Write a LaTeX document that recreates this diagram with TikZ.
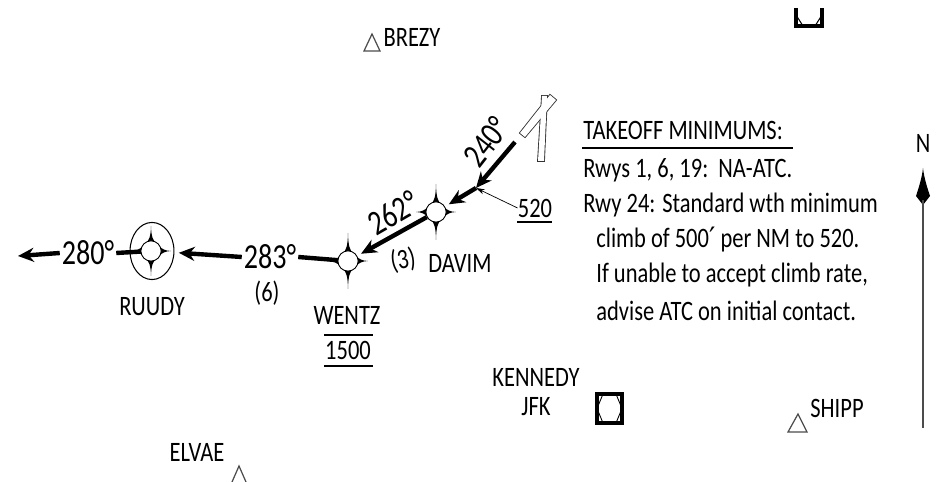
\documentclass[tikz,border=0pt]{standalone}
\usepackage{fontspec}
\setmainfont[FakeStretch=0.8]{Carlito}
\newfontfamily\symfont{DejaVu Sans}
\usetikzlibrary{arrows.meta,shapes.geometric}
\tikzset{
	txt/.style={inner sep=0pt,font=\fontsize{16}{16}\selectfont},
	big/.style={inner sep=1pt,font=\fontsize{20}{20}\selectfont},
	line/.style={anchor=west,inner sep=0pt,font=\fontsize{16}{16}\selectfont},
	leg/.style={line width=2.5pt,shorten >=2.5pt,-{Stealth[length=9pt,width=8pt]}},
	fix/.style={circle,draw,fill=white,line width=0.5pt,minimum size=11.5pt,inner sep=0pt},
	tri/.style={draw=black!70,line width=0.7pt},
	navaid/.style={draw,line width=1.8pt},
	strip/.style={draw=black!80,line width=1pt},
	fixstar/.pic={
		\foreach \a/\b in {0/#1,90/20,180/#1,270/20}{
			\fill[rotate=\a] (0,-\b) .. controls (0.3,-14) and (2,-11) .. (5,-8) -- (-5,-8) .. controls (-2,-11) and (-0.3,-14) .. (0,-\b);
		}
	},
	fixstar/.default=25
}
\begin{document}
\begin{tikzpicture}[x=0.02cm,y=-0.02cm]
	\useasboundingbox (0,0) rectangle (940,482);
	% fixes
	\pic at (151,251) {fixstar=25};
	\pic at (348,261) {fixstar=28};
	\pic at (436,212) {fixstar=28};
	\node[fix] (ruudy) at (151,251) {};
	\node[fix] (wentz) at (348,261) {};
	\node[fix] (davim) at (436,212) {};
	\node[draw,ellipse,line width=0.6pt,minimum width=25pt,minimum height=32.5pt,inner sep=0pt] (ring) at (152,251) {};
	% labels
	\node[big] (l280) at (88,253) {280°};
	\node[big] (l283) at (270,257) {283°};
	\node[big,rotate=30] (l262) at (393,213) {262°};
	\node[big,rotate=52] (l240) at (486,142) {240°};
	\node[txt] (l6) at (267,293) {(6)};
	\node[txt,rotate=10] (l3) at (403,260) {(3)};
	\node[txt] (lruudy) at (152,307) {RUUDY};
	\node[txt] (lwentz) at (347,315) {WENTZ};
	\node[txt] (l1500) at (348,350) {1500};
	\node[txt] (ldavim) at (460,263) {DAVIM};
	\node[txt] (l520) at (535,208) {520};
	\node[txt] (lbrezy) at (412,37) {BREZY};
	\node[txt] (lelvae) at (197,452) {ELVAE};
	\node[txt] (lshipp) at (837,408) {SHIPP};
	\node[txt] (lkennedy) at (536,377) {KENNEDY};
	\node[txt] (ljfk) at (536,407) {JFK};
	\node[txt] (lnorth) at (923,143) {N};
	% route
	\coordinate (w280) at (18,256);
	\coordinate (rwyend) at (515,142);
	\coordinate (mid) at (476,188);
	\draw[leg,shorten >=0pt] (l280.west) -- (w280);
	\draw[line width=2.5pt] (l280.east) -- (ruudy);
	\draw[leg] (l283.west) -- (ring);
	\draw[line width=2.5pt] (l283.east) -- (wentz);
	\draw[leg] (davim) -- (wentz);
	\draw[leg,shorten >=0pt] (rwyend) -- (mid);
	\draw[leg] (mid) -- (davim);
	\draw[thin,-{Stealth[length=5pt,width=3pt]}] (l520.west) -- (mid);
	% underlines
	\draw[thick] (324,335) -- (373,335);
	\draw[thick] (324,366) -- (373,366);
	\draw[thick] (517,222) -- (552,222);
	% runway
	\draw[strip] (538,161) -- (542,96) -- (547,96) -- (544,161) -- cycle;
	\draw[strip] (520,133) -- (550,95) -- (556,100) -- (525,137) -- cycle;
	\fill[white] (538,161) -- (542,96) -- (547,96) -- (544,161) -- cycle;
	\fill[white] (520,133) -- (550,95) -- (556,100) -- (525,137) -- cycle;
	% intersections
	\draw[tri] (364,51) -- (372,34) -- (380,51) -- cycle;
	\draw[tri] (788,432) -- (798,414) -- (807,432) -- cycle;
	\draw[tri] (232,482) -- (239,466) -- (246,482);
	% airports
	\draw[line width=0.5pt] (603,394) -- (616,394) -- (622,408.5) -- (616,423) -- (603,423) -- (597,408.5) -- cycle;
	\draw[navaid] (597,394) rectangle (622,423);
	\draw[navaid] (796,8) -- (796,26) -- (822,26) -- (822,8);
	\draw[line width=0.6pt] (796,15) -- (803,26);
	\draw[line width=0.6pt] (822,15) -- (815,26);
	% takeoff note
	\node[line] (title) at (583,130) {TAKEOFF MINIMUMS:};
	\draw[thick] (582,148) -- (793,148);
	\node[line] (rwys) at (583,170) {Rwys 1, 6, 19:\ \ NA-ATC.};
	\node[line] (rwy) at (583,205) {Rwy 24: Standard wth minimum};
	\node[line] (climb) at (596,240) {climb of 500{\symfont ′} per NM to 520.};
	\node[line] (unable) at (596,275) {If unable to accept climb rate,};
	\node[line] (advise) at (596,311) {advise ATC on initial contact.};
	% north arrow
	\fill (923,168) .. controls (924,178) and (928,190) .. (930,196) -- (923,205) -- (916,196) .. controls (918,190) and (922,178) .. (923,168);
	\draw[black!70,line width=0.9pt] (923,200) -- (923,428);
\end{tikzpicture}
\end{document}
